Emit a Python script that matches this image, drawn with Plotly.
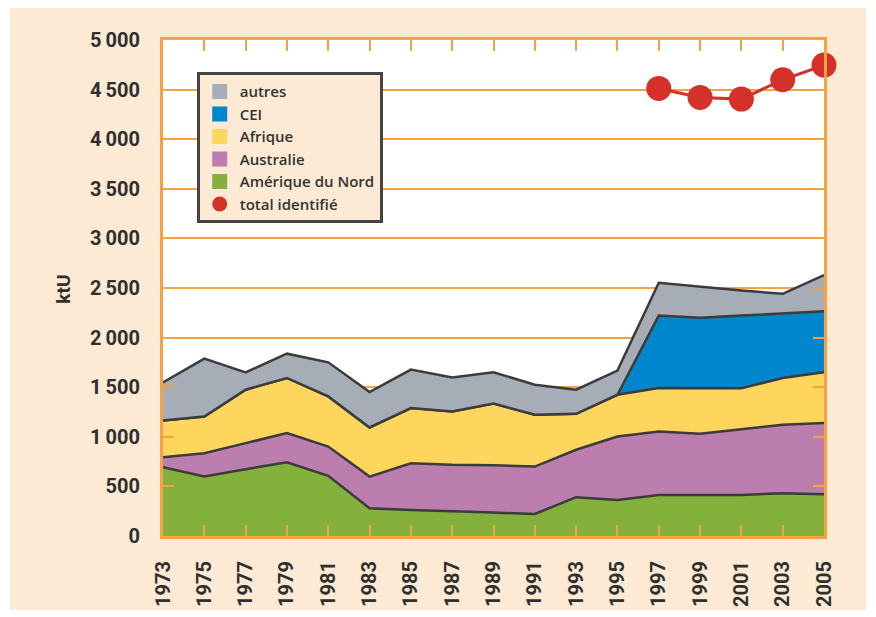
import plotly.graph_objects as go

years = [1973, 1975, 1977, 1979, 1981, 1983, 1985, 1987, 1989, 1991, 1993, 1995, 1997, 1999, 2001, 2003, 2005]
amerique_nord = [694, 599, 673, 744, 606, 279, 263, 246, 236, 222, 391, 364, 414, 414, 414, 431, 421]
australie = [101, 236, 263, 293, 296, 320, 471, 471, 476, 478, 478, 639, 640, 616, 663, 690, 717]
afrique = [370, 370, 539, 556, 505, 495, 556, 539, 624, 522, 363, 421, 438, 462, 413, 472, 512]
cei = [0, 0, 0, 0, 0, 0, 0, 0, 0, 0, 0, 0, 730, 707, 732, 649, 616]
autres = [383, 583, 175, 245, 344, 357, 387, 343, 314, 303, 243, 243, 330, 313, 253, 199, 364]

total_years = [1997, 1999, 2001, 2003, 2005]
total_identifie = [4512, 4421, 4404, 4599, 4747]

y_ticks = [0, 500, 1000, 1500, 2000, 2500, 3000, 3500, 4000, 4500, 5000]
y_ticktext = ["0", "500", "1\u2009000", "1\u2009500", "2\u2009000", "2\u2009500",
              "3\u2009000", "3\u2009500", "4\u2009000", "4\u2009500", "5\u2009000"]
x_ticks = list(range(1973, 2006, 2))

PEACH = "#fdead4"
ORANGE = "#f7a143"
OUTLINE = "#3b3b3b"
TEXT = "#2f2f2f"

series = [
    ("Amérique du Nord", amerique_nord, "#83b13b", 5),
    ("Australie", australie, "#bc7eae", 4),
    ("Afrique", afrique, "#fed65e", 3),
    ("CEI", cei, "#0086cc", 2),
    ("autres", autres, "#a7adb6", 1),
]

fig = go.Figure()
for name, vals, col, rank in series:
    fig.add_trace(go.Scatter(
        x=years, y=vals, stackgroup="one", mode="lines",
        line=dict(color=OUTLINE, width=2.5), fillcolor=col,
        showlegend=False, name=name, hoverinfo="skip"))
for name, vals, col, rank in series:
    fig.add_trace(go.Scatter(
        x=[None], y=[None], mode="markers", name=name,
        marker=dict(symbol="square", size=15, color=col),
        legendrank=rank, showlegend=True))

fig.add_trace(go.Scatter(
    x=total_years, y=total_identifie, mode="lines+markers",
    line=dict(color="#d4312a", width=3),
    marker=dict(size=25, color="#d4312a"),
    cliponaxis=False,
    showlegend=False, name="total identifié"))
fig.add_trace(go.Scatter(
    x=[None], y=[None], mode="markers", name="total identifié",
    marker=dict(symbol="circle", size=15, color="#d4312a"),
    legendrank=6, showlegend=True))

fig.update_layout(
    width=876, height=617,
    margin=dict(l=155, r=60, t=32, b=89, autoexpand=False),
    paper_bgcolor="white",
    plot_bgcolor="white",
    showlegend=True,
    legend=dict(
        x=0.051, y=0.935, xanchor="left", yanchor="top",
        bgcolor=PEACH, bordercolor="#444444", borderwidth=3,
        font=dict(family="Open Sans", size=15, color="#333333", weight=600),
        itemwidth=30, traceorder="normal"),
    shapes=[
        dict(type="rect", xref="paper", yref="paper", x0=-0.2315, x1=1.0635,
             y0=-0.149, y1=1.0665, fillcolor=PEACH, line=dict(width=0), layer="below"),
        dict(type="rect", xref="paper", yref="paper", x0=0, x1=1, y0=0, y1=1,
             fillcolor="white", line=dict(width=0), layer="below"),
    ],
    annotations=[
        dict(text="ktU", xref="paper", yref="paper", x=-0.151, y=0.497,
             xanchor="center", yanchor="middle",
             textangle=-90, showarrow=False,
             font=dict(family="Roboto", size=19, color=TEXT, weight="bold")),
    ],
)

fig.update_xaxes(
    range=[1973, 2005], tickvals=x_ticks, ticktext=[str(y) for y in x_ticks],
    tickangle=-90, showgrid=False, zeroline=False, automargin=False,
    showline=True, linecolor=ORANGE, linewidth=3, mirror="ticks",
    ticks="inside", ticklen=11, tickwidth=2, tickcolor=ORANGE,
    ticklabelstandoff=14,
    tickfont=dict(family="Roboto", size=20, color=TEXT, weight="bold"))
fig.update_yaxes(
    range=[0, 5000], tickvals=y_ticks, ticktext=y_ticktext,
    showgrid=True, gridcolor=ORANGE, gridwidth=1.5, zeroline=False, automargin=False,
    showline=True, linecolor=ORANGE, linewidth=3, mirror="ticks",
    ticks="inside", ticklen=11, tickwidth=2, tickcolor=ORANGE,
    ticklabelstandoff=16,
    tickfont=dict(family="Roboto", size=20, color=TEXT, weight="bold"))

fig.write_html("out.html")
